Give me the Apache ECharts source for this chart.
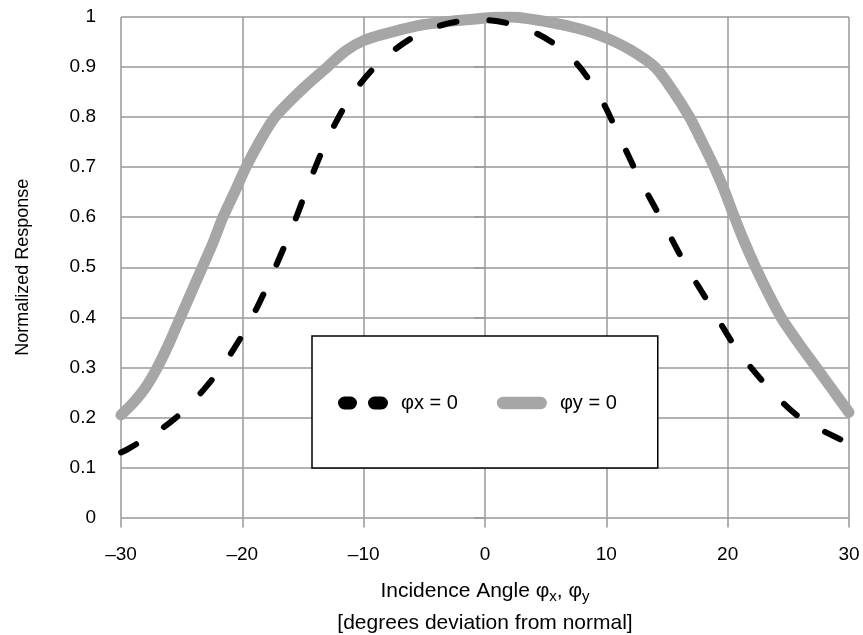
<!DOCTYPE html>
<html>
<head>
<meta charset="utf-8">
<script src="https://cdn.jsdelivr.net/npm/echarts@6/dist/echarts.min.js"></script>
<style>
html,body{margin:0;padding:0;background:#fff;}
#chart{width:863px;height:635px;}
</style>
</head>
<body>
<div id="chart"></div>
<script>
// φx = 0 (black dashed)
var phiXAngles = [-30, -29.4, -26.0, -23.2, -20.8, -18.8, -17.15, -15.6, -14.2, -12.6, -10.5, -7.7, -4.2, -0.3, 3.7, 7.0, 9.4, 11.0, 12.7, 14.6, 16.5, 18.55, 20.6, 23.2, 26.0, 29.5, 30];
var phiXValues = [0.13, 0.137, 0.189, 0.255, 0.333, 0.419, 0.507, 0.597, 0.687, 0.775, 0.86, 0.93, 0.979, 0.994, 0.973, 0.921, 0.843, 0.765, 0.679, 0.593, 0.506, 0.424, 0.342, 0.264, 0.199, 0.153, 0.145];
// φy = 0 (gray solid)
var phiYAngles = [-30, -29, -28, -27, -26, -25.1, -24.2, -23.3, -22.4, -21.6, -20.6, -19.7, -18.6, -17.3, -15, -13, -11.5, -10, -8, -5, 0, 2, 5, 8, 10, 12, 14, 15.5, 16.85, 17.9, 18.9, 19.7, 20.4, 21.3, 22.3, 23.3, 24.4, 25.8, 27.3, 28.5, 30];
var phiYValues = [0.205, 0.229, 0.259, 0.30, 0.35, 0.40, 0.45, 0.50, 0.55, 0.60, 0.652, 0.70, 0.75, 0.80, 0.857, 0.90, 0.932, 0.953, 0.968, 0.985, 0.998, 1.0, 0.991, 0.975, 0.958, 0.934, 0.90, 0.852, 0.80, 0.75, 0.70, 0.655, 0.61, 0.555, 0.50, 0.45, 0.40, 0.35, 0.30, 0.26, 0.21];
var seriesNames = ['φx = 0', 'φy = 0'];
var xTicks = {min: -30, max: 30, step: 10};
var yTicks = {min: 0, max: 1, step: 0.1};

function pairs(xs, ys) { return xs.map(function (x, i) { return [x, ys[i]]; }); }

var FONT = '"Liberation Sans", Arial, Helvetica, sans-serif';
var GRID = '#989898';
var chart = echarts.init(document.getElementById('chart'));
chart.setOption({
  animation: false,
  backgroundColor: '#fff',
  grid: {left: 121, right: 14, top: 17, bottom: 117.5, containLabel: false, outerBoundsMode: 'none'},
  xAxis: {
    type: 'value', min: xTicks.min, max: xTicks.max, interval: xTicks.step,
    axisLine: {show: false},
    axisTick: {show: true, inside: false, length: 10, lineStyle: {color: GRID, width: 1.5}},
    splitLine: {show: true, lineStyle: {color: GRID, width: 1.5}},
    axisLabel: {
      margin: 28, fontSize: 19, color: '#000', fontFamily: FONT,
      formatter: function (v) { return v < 0 ? '\u2013' + Math.abs(v) : String(v); }
    },
    name: 'Incidence Angle φ{sub|x}, φ{sub|y}\n[degrees deviation from normal]',
    nameLocation: 'middle', nameGap: 58,
    nameTextStyle: {
      fontSize: 21, color: '#000', fontFamily: FONT, lineHeight: 32,
      rich: {sub: {fontSize: 15, color: '#000', fontFamily: FONT, padding: [10, 0, 0, 0], lineHeight: 32}}
    }
  },
  yAxis: {
    type: 'value', min: yTicks.min, max: yTicks.max, interval: yTicks.step,
    axisLine: {show: false},
    axisTick: {show: true, inside: false, length: 11, lineStyle: {color: GRID, width: 1.5}},
    splitLine: {show: true, lineStyle: {color: GRID, width: 1.5}},
    axisLabel: {margin: 25, fontSize: 19, color: '#000', fontFamily: FONT},
    name: 'Normalized Response',
    nameLocation: 'middle', nameGap: 89,
    nameTextStyle: {fontSize: 18, color: '#000', fontFamily: FONT}
  },
  legend: {
    left: 312, top: 336,
    orient: 'horizontal',
    data: [
      {name: seriesNames[0], icon: 'path://M6.5,0 H12.5 A6.5,6.5 0 0 1 12.5,13 H6.5 A6.5,6.5 0 0 1 6.5,0 Z M36.5,0 H43.5 A6.5,6.5 0 0 1 43.5,13 H36.5 A6.5,6.5 0 0 1 36.5,0 Z'},
      {name: seriesNames[1], icon: 'path://M6,0 H42 A6,6 0 0 1 42,12 H6 A6,6 0 0 1 6,0 Z'}
    ],
    itemWidth: 50, itemHeight: 13, itemGap: 39,
    padding: [57, 41, 55, 26],
    backgroundColor: '#fff', borderColor: '#000', borderWidth: 1.5, borderRadius: 0,
    itemStyle: {borderWidth: 0},
    textStyle: {fontSize: 20, color: '#000', fontFamily: FONT, lineHeight: 20, padding: [0, 0, 0, 8]},
    selectedMode: false
  },
  series: [
    {
      name: seriesNames[1], type: 'line', data: pairs(phiYAngles, phiYValues),
      smooth: 0.3, showSymbol: false, symbol: 'none',
      color: '#a6a6a6',
      lineStyle: {color: '#a6a6a6', width: 11, cap: 'round', join: 'round'},
      z: 2
    },
    {
      name: seriesNames[0], type: 'line', data: pairs(phiXAngles, phiXValues),
      smooth: 0.35, showSymbol: false, symbol: 'none',
      color: '#000',
      lineStyle: {color: '#000', width: 6, type: [17, 33], cap: 'round', join: 'round'},
      z: 3
    }
  ]
});
</script>
</body>
</html>
